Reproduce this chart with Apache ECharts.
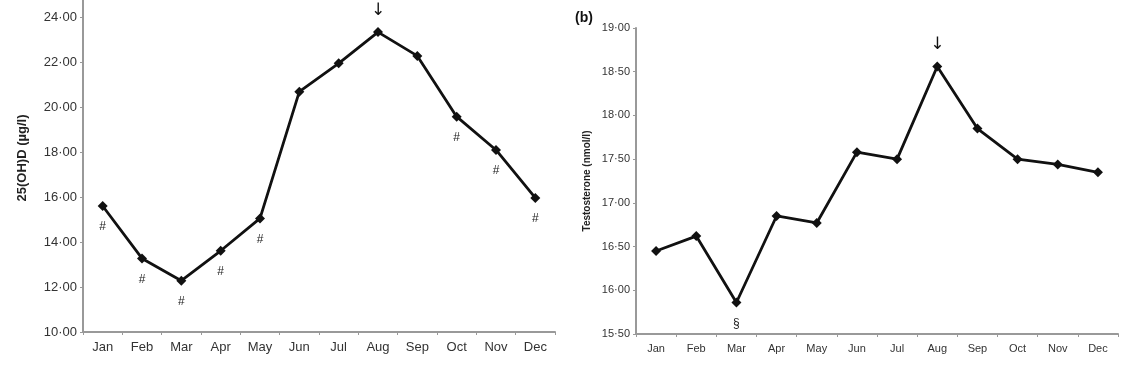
<!DOCTYPE html>
<html><head><meta charset="utf-8">
<script src="https://cdn.jsdelivr.net/npm/echarts@6/dist/echarts.min.js"></script>
<style>html,body{margin:0;padding:0;background:#fff}#c{width:1126px;height:390px}</style>
</head><body><div id="c"></div>
<script>
const months = ['Jan','Feb','Mar','Apr','May','Jun','Jul','Aug','Sep','Oct','Nov','Dec'];
const vitD = [15.6, 13.27, 12.28, 13.61, 15.05, 20.68, 21.94, 23.33, 22.27, 19.57, 18.09, 15.96];
const vitDNotes = ['#','#','#','#','#','','','↓','','#','#','#'];
const testo = [16.45, 16.62, 15.86, 16.85, 16.77, 17.58, 17.50, 18.56, 17.85, 17.50, 17.44, 17.35];
const testoNotes = ['','','§','','','','','↓','','','',''];
const vitDTicks = {min: 10, max: 24, interval: 2};
const testoTicks = {min: 15.5, max: 19, interval: 0.5};

const FONT = 'Liberation Sans, Arial, sans-serif';
const fmt = v => v.toFixed(2).replace('.', '·');

function buildData(vals, notes) {
  return vals.map((v, i) => {
    const n = notes[i];
    if (!n) return v;
    if (n === '↓') return {value: v, label: {show: true, formatter: n, position: 'top', distance: 8, fontSize: 17, color: '#111', fontFamily: 'DejaVu Sans'}};
    return {value: v, label: {show: true, formatter: n, position: 'bottom', distance: 10, fontSize: 12, color: '#222', fontFamily: FONT}};
  });
}

function xAxis(gi, fs) {
  return {type: 'category', gridIndex: gi, data: months, boundaryGap: true,
    axisLine: {lineStyle: {color: '#999', width: 2}},
    axisTick: {show: true, length: 3, lineStyle: {color: '#999'}},
    axisLabel: {color: '#333', fontSize: fs, fontFamily: FONT, margin: 9}};
}
function yAxis(gi, t, name, fs, nameGap, nfs) {
  return {type: 'value', gridIndex: gi, min: t.min, max: t.max, interval: t.interval,
    name: name, nameLocation: 'middle', nameGap: nameGap, nameRotate: 90,
    nameTextStyle: {color: '#222', fontSize: nfs, fontWeight: 'bold', fontFamily: FONT},
    splitLine: {show: false},
    axisLine: {show: true, lineStyle: {color: '#999', width: 2}},
    axisTick: {show: true, length: 3, lineStyle: {color: '#999'}},
    axisLabel: {color: '#333', fontSize: fs, fontFamily: FONT, margin: 6, formatter: fmt}};
}
function line(gi, vals, notes) {
  return {type: 'line', xAxisIndex: gi, yAxisIndex: gi, data: buildData(vals, notes),
    symbol: 'diamond', symbolSize: 10, showSymbol: true,
    lineStyle: {color: '#111', width: 2.8}, itemStyle: {color: '#111'},
    animation: false, label: {show: false}};
}

const chart = echarts.init(document.getElementById('c'));
chart.setOption({
  backgroundColor: '#fff',
  animation: false,
  grid: [
    {left: 83, right: 571, top: 17, bottom: 58},
    {left: 636, right: 8, top: 28, bottom: 56}
  ],
  title: [{text: '(b)', left: 570, top: 6, textStyle: {fontSize: 14, fontWeight: 'bold', color: '#111', fontFamily: FONT}}],
  graphic: [
    {type: 'text', x: 22, y: 158, rotation: Math.PI / 2,
      style: {text: '25(OH)D (µg/l)', fill: '#222', font: 'bold 13px Liberation Sans, Arial, sans-serif', align: 'center', verticalAlign: 'middle'}},
    {type: 'line', shape: {x1: 83, y1: 0, x2: 83, y2: 17}, style: {stroke: '#999', lineWidth: 2}}
  ],
  xAxis: [xAxis(0, 13), xAxis(1, 11)],
  yAxis: [yAxis(0, vitDTicks, '', 13, 55, 11), yAxis(1, testoTicks, 'Testosterone (nmol/l)', 11, 44, 10)],
  series: [line(0, vitD, vitDNotes), line(1, testo, testoNotes)]
});
</script></body></html>
